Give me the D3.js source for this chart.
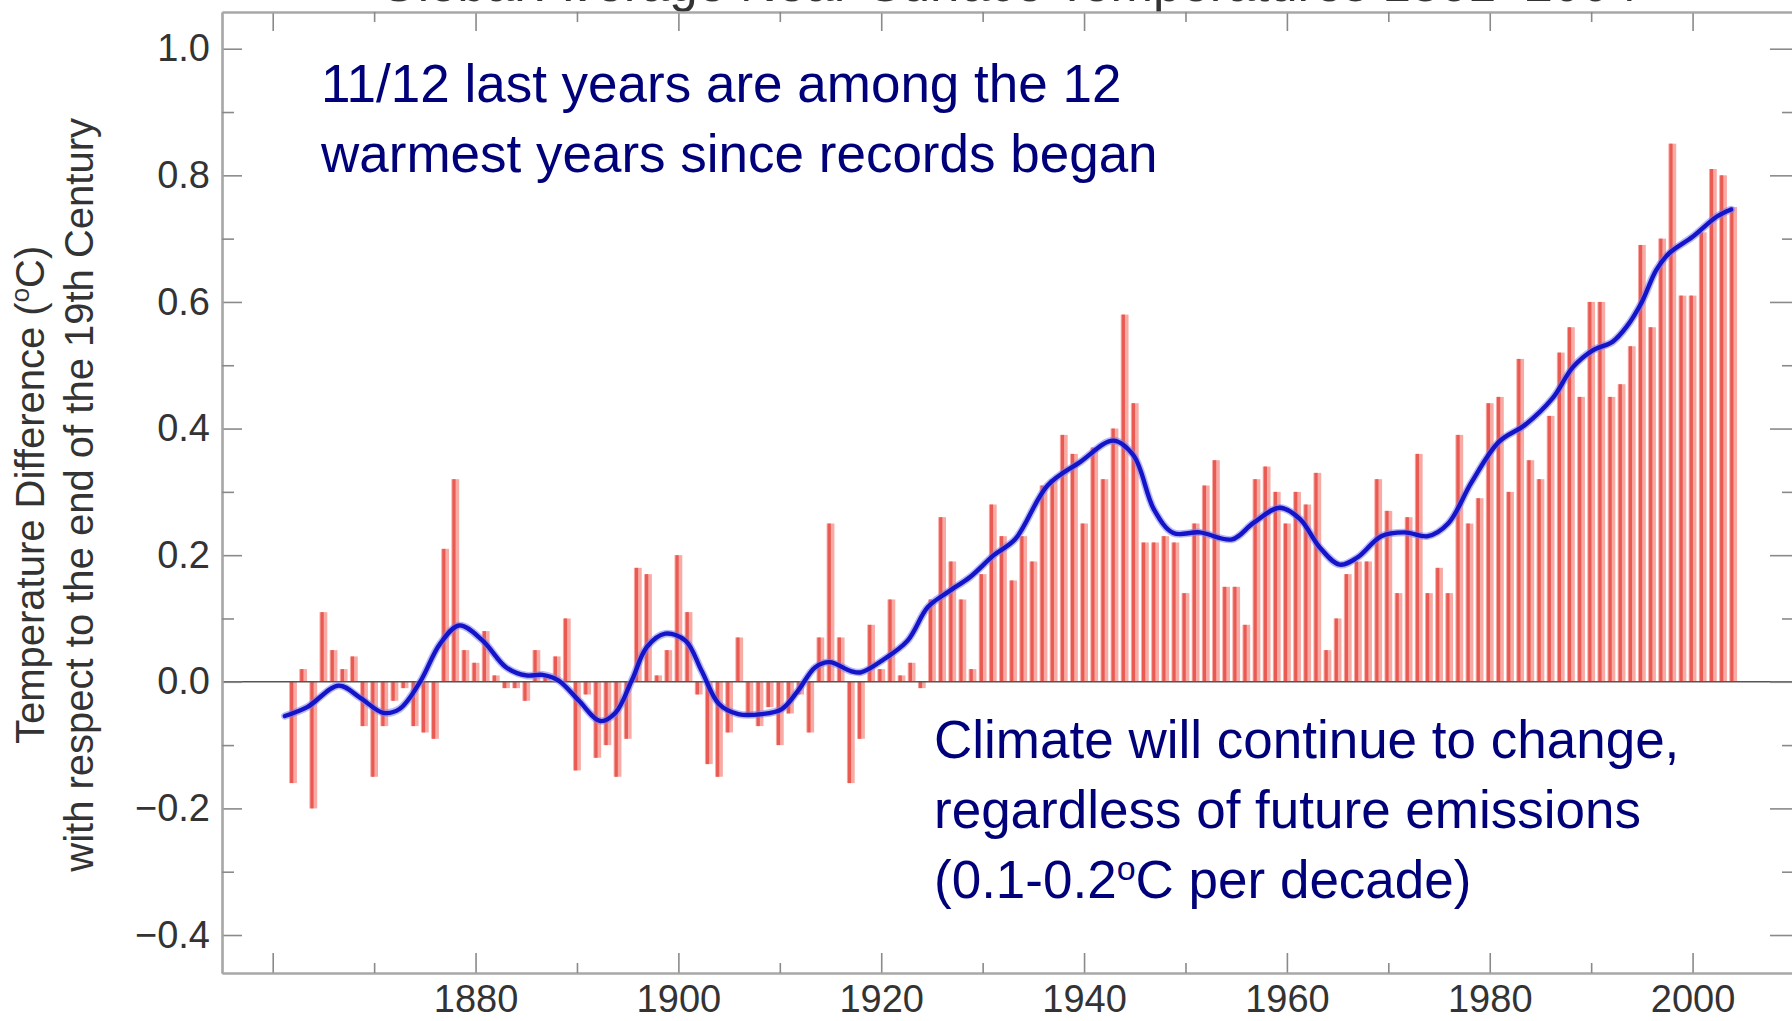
<!DOCTYPE html>
<html>
<head>
<meta charset="utf-8">
<script src="https://cdn.jsdelivr.net/npm/d3@7/dist/d3.min.js"></script>
<style>
  html, body { margin: 0; padding: 0; background: #fff; overflow: hidden; }
  svg { display: block; }
</style>
</head>
<body>
<svg id="chart" width="1792" height="1021"></svg>
<script>
// Annual global near-surface temperature anomalies (°C, relative to the end of the 19th century)
const firstYear = 1862;
const anomalies = [
  -0.16, 0.02, -0.20, 0.11, 0.05, 0.02, 0.04, -0.07, -0.15,            // 1862-1870
  -0.07, -0.03, -0.01, -0.07, -0.08, -0.09, 0.21, 0.32, 0.05, 0.03,    // 1871-1880
  0.08, 0.01, -0.01, -0.01, -0.03, 0.05, 0.01, 0.04, 0.10, -0.14,      // 1881-1890
  -0.02, -0.12, -0.10, -0.15, -0.09, 0.18, 0.17, 0.01, 0.05, 0.20,     // 1891-1900
  0.11, -0.02, -0.13, -0.15, -0.08, 0.07, -0.05, -0.07, -0.04, -0.10,  // 1901-1910
  -0.05, -0.02, -0.08, 0.07, 0.25, 0.07, -0.16, -0.09, 0.09, 0.02,     // 1911-1920
  0.13, 0.01, 0.03, -0.01, 0.13, 0.26, 0.19, 0.13, 0.02, 0.17,         // 1921-1930
  0.28, 0.23, 0.16, 0.23, 0.19, 0.31, 0.32, 0.39, 0.36, 0.25,          // 1931-1940
  0.37, 0.32, 0.40, 0.58, 0.44, 0.22, 0.22, 0.23, 0.22, 0.14,          // 1941-1950
  0.25, 0.31, 0.35, 0.15, 0.15, 0.09, 0.32, 0.34, 0.30, 0.25,          // 1951-1960
  0.30, 0.28, 0.33, 0.05, 0.10, 0.17, 0.19, 0.19, 0.32, 0.27,          // 1961-1970
  0.14, 0.26, 0.36, 0.14, 0.18, 0.14, 0.39, 0.25, 0.29, 0.44,          // 1971-1980
  0.45, 0.30, 0.51, 0.35, 0.32, 0.42, 0.52, 0.56, 0.45, 0.60,          // 1981-1990
  0.60, 0.45, 0.47, 0.53, 0.69, 0.56, 0.70, 0.85, 0.61, 0.61,          // 1991-2000
  0.71, 0.81, 0.80, 0.75                                               // 2001-2004
];
const years = anomalies.map((v, i) => firstYear + i);

// Smoothed (decadal) curve, read at irregular points along the series
const smoothYears = [
  1861.2, 1863.4, 1866.5, 1868.6, 1870.9, 1872.5, 1874.5, 1876.5, 1878.4, 1880.7,
  1883.0, 1885.0, 1886.6, 1888.2, 1890.2, 1892.3, 1893.8, 1895.4, 1896.9, 1898.7,
  1900.7, 1902.3, 1904.0, 1905.9, 1908.2, 1910.2, 1911.8, 1913.5, 1914.9, 1917.0,
  1918.0, 1920.3, 1922.6, 1924.6, 1926.6, 1928.8, 1931.1, 1933.2, 1936.4, 1939.6,
  1942.9, 1944.9, 1946.9, 1948.8, 1951.4, 1954.6, 1956.7, 1959.3, 1961.3, 1963.2,
  1965.2, 1967.0, 1969.3, 1971.6, 1973.9, 1975.9, 1978.2, 1980.9, 1983.5, 1986.2,
  1988.2, 1990.2, 1992.1, 1993.5, 1995.0, 1996.4, 1997.7, 2000.0, 2002.4, 2003.8
];
const smoothValues = [
  -0.054, -0.040, -0.006, -0.025, -0.049, -0.043, -0.001, 0.060, 0.089, 0.065,
  0.023, 0.010, 0.011, 0.002, -0.030, -0.062, -0.049, 0.002, 0.055, 0.076,
  0.065, 0.017, -0.035, -0.051, -0.051, -0.043, -0.014, 0.023, 0.031, 0.017,
  0.015, 0.036, 0.065, 0.118, 0.142, 0.166, 0.200, 0.225, 0.310, 0.347,
  0.381, 0.357, 0.272, 0.235, 0.236, 0.225, 0.251, 0.275, 0.257, 0.213,
  0.185, 0.197, 0.230, 0.236, 0.230, 0.250, 0.315, 0.379, 0.406, 0.448,
  0.497, 0.524, 0.537, 0.561, 0.600, 0.650, 0.677, 0.703, 0.735, 0.746
];

// Axis ticks and labels
const yMajorTicks = [-0.4, -0.2, 0.0, 0.2, 0.4, 0.6, 0.8, 1.0];
const yMajorLabels = ["\u22120.4", "\u22120.2", "0.0", "0.2", "0.4", "0.6", "0.8", "1.0"];
const yMinorTicks = [-0.3, -0.1, 0.1, 0.3, 0.5, 0.7, 0.9];
const xMajorTicks = [1860, 1880, 1900, 1920, 1940, 1960, 1980, 2000];
const xMajorLabels = ["", "1880", "1900", "1920", "1940", "1960", "1980", "2000"];
const xMinorTicks = [1870, 1890, 1910, 1930, 1950, 1970, 1990];

const titleText = "Global Average Near-Surface Temperatures 1861\u20132004";
const yTitleLines = ["Temperature Difference (", "with respect to the end of the 19th Century"];
const noteTop = ["11/12 last years are among the 12", "warmest years since records began"];
const noteBottom = ["Climate will continue to change,", "regardless of future emissions"];

const FONT = "'Liberation Sans', Arial, Helvetica, sans-serif";
const AXIS_INK = "#333";
const NOTE_INK = "#00007a";
const FRAME = "#a8a8a8";

const svg = d3.select("#chart");
svg.append("rect").attr("width", 1792).attr("height", 1021).attr("fill", "#fff");

// Plot frame in pixels
const plotLeft = 222, plotRight = 1794, plotTop = 12, plotBottom = 973;

const x = d3.scaleLinear().domain([1855, 2010]).range([plotLeft, plotRight]);
const y = d3.scaleLinear().domain([-0.46, 1.058]).range([plotBottom, plotTop]);

// Title (sits mostly above the visible area)
svg.append("text")
  .attr("x", (plotLeft + plotRight) / 2).attr("y", 1)
  .attr("text-anchor", "middle")
  .attr("font-family", FONT).attr("font-size", 51)
  .attr("fill", AXIS_INK)
  .text(titleText);

// Bars: light body with a deeper red core
const barW = 7.8;
const bars = svg.append("g");
bars.selectAll("rect.body")
  .data(years)
  .join("rect")
  .attr("class", "body")
  .attr("x", (d) => x(d) - barW / 2)
  .attr("width", barW)
  .attr("y", (d, i) => y(Math.max(0, anomalies[i])))
  .attr("height", (d, i) => Math.abs(y(anomalies[i]) - y(0)))
  .attr("fill", "#f8aaa5");
bars.selectAll("rect.core")
  .data(years)
  .join("rect")
  .attr("class", "core")
  .attr("x", (d) => x(d) - barW / 2 + 1)
  .attr("width", 3.2)
  .attr("y", (d, i) => y(Math.max(0, anomalies[i])))
  .attr("height", (d, i) => Math.abs(y(anomalies[i]) - y(0)))
  .attr("fill", "#e85a52");

// Zero line
svg.append("line")
  .attr("x1", plotLeft).attr("x2", plotRight)
  .attr("y1", y(0)).attr("y2", y(0))
  .attr("stroke", "#555").attr("stroke-width", 1.6);

// Smoothed curve
const line = d3.line()
  .x((d) => x(d[0]))
  .y((d) => y(d[1]))
  .curve(d3.curveCatmullRom.alpha(0.5));
const smoothPts = smoothYears.map((yr, i) => [yr, smoothValues[i]]);
svg.append("path")
  .attr("d", line(smoothPts))
  .attr("fill", "none")
  .attr("stroke", "#7f7ff0").attr("stroke-opacity", 0.55)
  .attr("stroke-width", 7.5).attr("stroke-linecap", "round");
svg.append("path")
  .attr("d", line(smoothPts))
  .attr("fill", "none")
  .attr("stroke", "#1414c8")
  .attr("stroke-width", 4.4).attr("stroke-linecap", "round");

// Axes
function styleAxis(g) {
  g.select(".domain").attr("stroke", FRAME).attr("stroke-width", 2.2);
  g.selectAll(".tick line").attr("stroke", "#8a8a8a").attr("stroke-width", 1.6);
  g.selectAll(".tick text")
    .attr("font-family", FONT).attr("font-size", 38).attr("fill", AXIS_INK);
  g.attr("font-size", null).attr("font-family", null);
}

// left
svg.append("g").attr("transform", `translate(${plotLeft},0)`)
  .call(d3.axisLeft(y).tickValues(yMajorTicks)
    .tickFormat((d, i) => yMajorLabels[i])
    .tickSizeInner(-20).tickSizeOuter(0).tickPadding(12))
  .call(styleAxis);
svg.append("g").attr("transform", `translate(${plotLeft},0)`)
  .call(d3.axisLeft(y).tickValues(yMinorTicks).tickFormat("")
    .tickSizeInner(-12).tickSizeOuter(0))
  .call(styleAxis);

// right
svg.append("g").attr("transform", `translate(${plotRight},0)`)
  .call(d3.axisRight(y).tickValues(yMajorTicks).tickFormat("")
    .tickSizeInner(-24).tickSizeOuter(0))
  .call(styleAxis);
svg.append("g").attr("transform", `translate(${plotRight},0)`)
  .call(d3.axisRight(y).tickValues(yMinorTicks).tickFormat("")
    .tickSizeInner(-12).tickSizeOuter(0))
  .call(styleAxis);

// bottom
svg.append("g").attr("transform", `translate(0,${plotBottom})`)
  .call(d3.axisBottom(x).tickValues(xMajorTicks)
    .tickFormat((d, i) => xMajorLabels[i])
    .tickSizeInner(-20).tickSizeOuter(0).tickPadding(12))
  .call(styleAxis);
svg.append("g").attr("transform", `translate(0,${plotBottom})`)
  .call(d3.axisBottom(x).tickValues(xMinorTicks).tickFormat("")
    .tickSizeInner(-10).tickSizeOuter(0))
  .call(styleAxis);

// top
svg.append("g").attr("transform", `translate(0,${plotTop})`)
  .call(d3.axisTop(x).tickValues(xMajorTicks).tickFormat("")
    .tickSizeInner(-19).tickSizeOuter(0))
  .call(styleAxis);
svg.append("g").attr("transform", `translate(0,${plotTop})`)
  .call(d3.axisTop(x).tickValues(xMinorTicks).tickFormat("")
    .tickSizeInner(-10).tickSizeOuter(0))
  .call(styleAxis);

// Y-axis title (two rotated lines)
const yMid = (y(1.0) + y(-0.4)) / 2 + 3;
const t1 = svg.append("text")
  .attr("transform", `translate(44,${yMid}) rotate(-90)`)
  .attr("text-anchor", "middle")
  .attr("font-family", FONT).attr("font-size", 40).attr("fill", AXIS_INK);
t1.append("tspan").text(yTitleLines[0]);
t1.append("tspan").attr("font-size", 26).attr("dy", -15).text("o");
t1.append("tspan").attr("dy", 15).text("C)");
svg.append("text")
  .attr("transform", `translate(93,${yMid}) rotate(-90)`)
  .attr("text-anchor", "middle")
  .attr("font-family", FONT).attr("font-size", 40).attr("fill", AXIS_INK)
  .text(yTitleLines[1]);

// Annotations
const noteA = svg.append("g")
  .attr("font-family", FONT).attr("font-size", 53).attr("fill", NOTE_INK);
noteA.selectAll("text").data(noteTop).join("text")
  .attr("x", 321).attr("y", (d, i) => 102 + i * 70)
  .text((d) => d);

const noteB = svg.append("g")
  .attr("font-family", FONT).attr("font-size", 53).attr("fill", NOTE_INK);
noteB.selectAll("text").data(noteBottom).join("text")
  .attr("x", 934).attr("y", (d, i) => 758 + i * 70)
  .text((d) => d);
const rate = noteB.append("text").attr("x", 934).attr("y", 758 + 2 * 70);
rate.append("tspan").text("(0.1-0.2");
rate.append("tspan").attr("font-size", 34).attr("dy", -18).text("o");
rate.append("tspan").attr("dy", 18).text("C per decade)");
</script>
</body>
</html>
